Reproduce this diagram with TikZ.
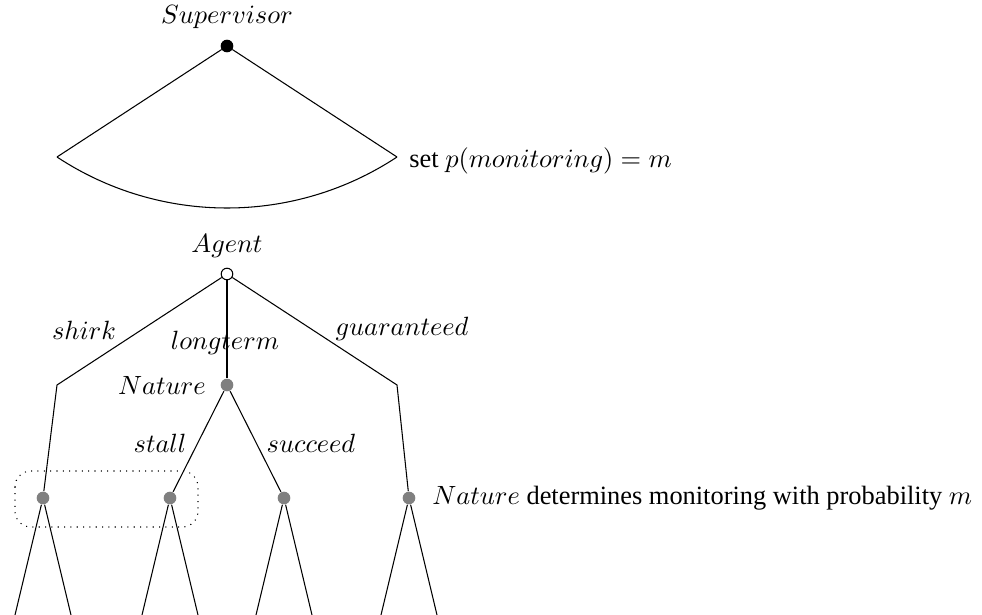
\documentclass[tikz,border=0pt]{standalone}
\usepackage{fontspec}
\setmainfont{Liberation Serif}
\begin{document}
\begin{tikzpicture}[x=0.3788pt,y=-0.3788pt]
    \tikzstyle{player}=[circle,draw,inner sep=0pt,minimum size=4.4pt]
    \tikzstyle{chance}=[circle,fill=gray,inner sep=0pt,minimum size=4.8pt]
    \tikzstyle{move}=[anchor=base]
    \useasboundingbox (0,0) rectangle (982,615);
    % supervisor chooses m
    \node[player,fill=black] (sup) at (227,46) {};
    \node[move] (suplabel) at (227,24) {$Supervisor$};
    \coordinate (supL) at (57,157);
    \coordinate (supR) at (397,157);
    \draw (supL) -- (sup) -- (supR);
    \draw (supL) .. controls +(103,68) and +(-103,68) .. (supR);
    \node[anchor=base west] (settext) at (400,167) {set $p(monitoring) = m$};
    % agent
    \node[player] (agent) at (227,274) {};
    \node[move] (agentlabel) at (227,252) {$Agent$};
    \coordinate (shirkbend) at (57,385);
    \coordinate (guarbend) at (397,385);
    \node[chance] (nat) at (227,385) {};
    \node[anchor=base east] (natlabel) at (215,394) {$Nature$};
    \node[chance] (d1) at (43,498) {};
    \node[chance] (d2) at (170,498) {};
    \node[chance] (d3) at (284,498) {};
    \node[chance] (d4) at (409,498) {};
    \draw (agent) -- (shirkbend) -- (d1);
    \draw (agent) -- (nat);
    \draw (agent) -- (guarbend) -- (d4);
    \draw (nat) -- (d2);
    \draw (nat) -- (d3);
    \node[move] (shirk) at (84,339) {$shirk$};
    \node[move] (longterm) at (225,349) {$longterm$};
    \node[move] (guar) at (402,335) {$guaranteed$};
    \node[move] (stall) at (160,452) {$stall$};
    \node[move] (succeed) at (311,452) {$succeed$};
    \node[anchor=west] (montext) at (423,498) {$Nature$ determines monitoring with probability $m$};
    \draw[dotted,rounded corners=6pt] (15,471) rectangle (198,527);
    \foreach \n/\x in {1/43,2/170,3/284,4/409} {
        \coordinate (leaf\n a) at (\x-28,615);
        \coordinate (leaf\n b) at (\x+28,615);
        \draw (leaf\n a) -- (d\n) -- (leaf\n b);
    }
\end{tikzpicture}
\end{document}
